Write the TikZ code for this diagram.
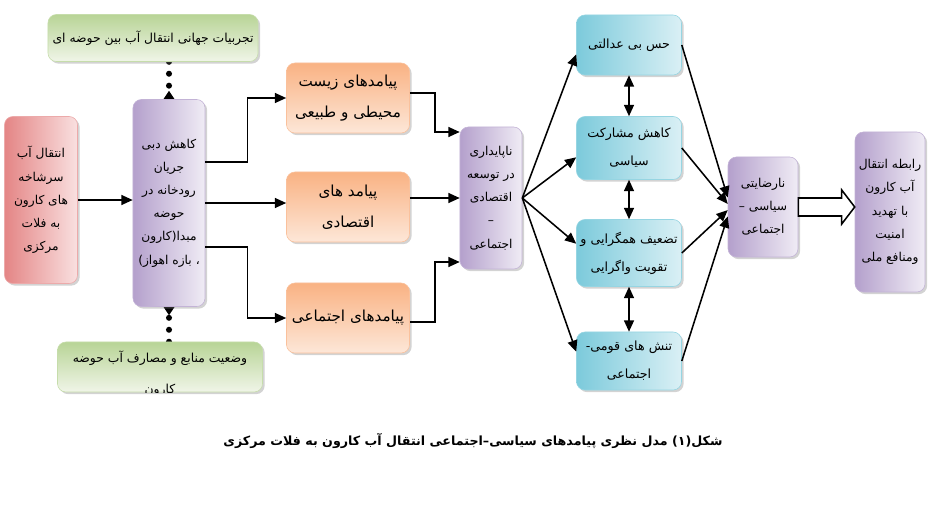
\documentclass[tikz,border=0pt]{standalone}
\usepackage{fontspec}
\usetikzlibrary{arrows.meta, positioning, calc, shadows, backgrounds}
\newfontfamily\arabicfont[Script=Arabic]{DejaVu Sans}
\TeXXeTstate=1
\newcommand{\fa}[1]{\beginR #1\endR}
\definecolor{redD}{HTML}{E48585}
\definecolor{redL}{HTML}{F9E0E0}
\definecolor{purpD}{HTML}{B4A0CC}
\definecolor{purpL}{HTML}{F0ECF5}
\definecolor{greenD}{HTML}{B8D496}
\definecolor{greenL}{HTML}{F0F5E8}
\definecolor{orangeD}{HTML}{F9B283}
\definecolor{orangeL}{HTML}{FDE7D8}
\definecolor{blueD}{HTML}{7CCADB}
\definecolor{blueL}{HTML}{DAF0F5}
\tikzset{
  box/.style={rounded corners=6pt, align=center, inner sep=2pt,
    font=\arabicfont\fontsize{8.7}{16.5}\selectfont,
    drop shadow={opacity=0.35, shadow xshift=1.5pt, shadow yshift=-1.5pt}},
  redbox/.style={box, draw=redD!70!white, left color=redD, right color=redL},
  purpbox/.style={box, draw=purpD!80!white, left color=purpD, right color=purpL},
  greenbox/.style={box, draw=greenD!80!white, top color=greenD, bottom color=greenL,
    font=\arabicfont\fontsize{8.8}{16}\selectfont},
  orangebox/.style={box, draw=orangeD!80!white, top color=orangeD, bottom color=orangeL,
    minimum width=3.075cm, minimum height=1.75cm,
    font=\arabicfont\fontsize{10.8}{22}\selectfont},
  bluebox/.style={box, draw=blueD!80!white, left color=blueD, right color=blueL,
    minimum width=2.625cm, font=\arabicfont\fontsize{9}{20}\selectfont},
  link/.style={line width=1.1pt, -{Triangle[length=8pt,width=7pt]}},
  dlink/.style={line width=1.1pt, {Triangle[length=8pt,width=7pt]}-{Triangle[length=8pt,width=7pt]}},
  dotlink/.style={line width=4.3pt, line cap=round, dash pattern=on 0pt off 8.5pt,
    -{Triangle[reversed, length=6pt, width=8pt, line width=0pt]}},
}
\begin{document}
\begin{tikzpicture}[x=0.025cm, y=-0.025cm]
  \useasboundingbox (0,0) rectangle (946,532);
  % source and origin basin
  \node[redbox, minimum width=1.825cm, minimum height=4.175cm] (src) at (41,200)
    {\fa{انتقال آب}\\ \fa{سرشاخه}\\ \fa{های کارون}\\ \fa{به فلات}\\ \fa{مرکزی}};
  \node[purpbox, minimum width=1.8cm, minimum height=5.175cm] (p1) at (169,203)
    {\fa{کاهش دبی}\\ \fa{جریان}\\ \fa{رودخانه در}\\ \fa{حوضه}\\ \fa{مبدا(کارون}\\ \fa{، بازه اهواز)}};
  \node[greenbox, minimum width=5.25cm, minimum height=1.175cm] (gtop) at (153,38)
    {\fa{تجربیات جهانی انتقال آب بین حوضه ای}};
  \node[greenbox, minimum width=5.125cm, minimum height=1.25cm] (gbot) at (160,367) {};
  \begin{scope}
    \clip[rounded corners=6pt] (gbot.south west) rectangle (gbot.north east);
    \node[align=center, font=\arabicfont\fontsize{8.8}{22}\selectfont, anchor=north]
      (gbottxt) at ($(gbot.north)+(0,4)$)
      {\fa{وضعیت منابع و مصارف آب حوضه}\\ \fa{کارون}};
  \end{scope}
  % consequences
  \node[orangebox] (o1) at (348,98) {\fa{پیامدهای زیست}\\ \fa{محیطی و طبیعی}};
  \node[orangebox] (o2) at (348,207) {\fa{پیامد های}\\ \fa{اقتصادی}};
  \node[orangebox] (o3) at (348,318) {\fa{پیامدهای اجتماعی}};
  \node[purpbox, minimum width=1.55cm, minimum height=3.55cm] (p2) at (491,198)
    {\fa{ناپایداری}\\ \fa{در توسعه}\\ \fa{اقتصادی}\\ \fa{–}\\ \fa{اجتماعی}};
  % political effects
  \node[bluebox, minimum height=1.5cm] (b1) at (629,45) {\fa{حس بی عدالتی}};
  \node[bluebox, minimum height=1.575cm] (b2) at (629,148) {\fa{کاهش مشارکت}\\ \fa{سیاسی}};
  \node[bluebox, minimum height=1.675cm] (b3) at (629,253) {\fa{تضعیف همگرایی و}\\ \fa{تقویت واگرایی}};
  \node[bluebox, minimum height=1.45cm] (b4) at (629,361) {\fa{تنش های قومی-}\\ \fa{اجتماعی}};
  \node[purpbox, minimum width=1.75cm, minimum height=2.5cm] (p3) at (763,207)
    {\fa{نارضایتی}\\ \fa{سیاسی –}\\ \fa{اجتماعی}};
  \node[purpbox, minimum width=1.75cm, minimum height=4cm] (fin) at (890,212)
    {\fa{رابطه انتقال}\\ \fa{آب کارون}\\ \fa{با تهدید}\\ \fa{امنیت}\\ \fa{ومنافع ملی}};
  % caption
  \node[font=\arabicfont\bfseries\fontsize{9}{12}\selectfont] (cap) at (473,441)
    {\fa{شکل(۱) مدل نظری پیامدهای سیاسی–اجتماعی انتقال آب کارون به فلات مرکزی}};
  % connectors
  \begin{scope}[on background layer]
    \draw[dotlink] (p1.north |- gtop.south) -- (p1.north);
    \draw[dotlink] (p1.south |- gbot.north) -- (p1.south);
  \end{scope}
  \draw[link] (src) -- (src -| p1.west);
  \draw[link] ($(p1.east)+(0,-41)$) -- ++(42,0) |- (o1.west);
  \draw[link] (p1.east) -- (p1.east -| o2.west);
  \draw[link] ($(p1.east)+(0,44)$) -- ++(42,0) |- (o3.west);
  \draw[link] ($(o1.east)+(0,-5)$) -- ++(25,0) |- ($(p2.west)+(0,-66)$);
  \draw[link] (o2.east |- p2.west) -- (p2.west);
  \draw[link] ($(o3.east)+(0,4)$) -- ++(25,0) |- ($(p2.west)+(0,64)$);
  \foreach \b/\a in {b1/190, b2/190, b3/170, b4/170}
    \draw[link] (p2.east) -- (\b.\a);
  \draw[dlink] (b1) -- (b2);
  \draw[dlink] (b2) -- (b3);
  \draw[dlink] (b3) -- (b4);
  \foreach \b/\a in {b1/165, b2/175, b3/185, b4/195}
    \draw[link] (\b.east) -- (p3.\a);
  \draw[line width=1.1pt, fill=white] ($(p3.east)+(0,-9)$) -- ($(fin.west |- p3.east)+(-13,-9)$)
    -- ++(0,-8) -- (fin.west |- p3.east) -- ++(-13,17) -- ++(0,-8)
    -- ($(p3.east)+(0,9)$) -- cycle;
\end{tikzpicture}
\end{document}
